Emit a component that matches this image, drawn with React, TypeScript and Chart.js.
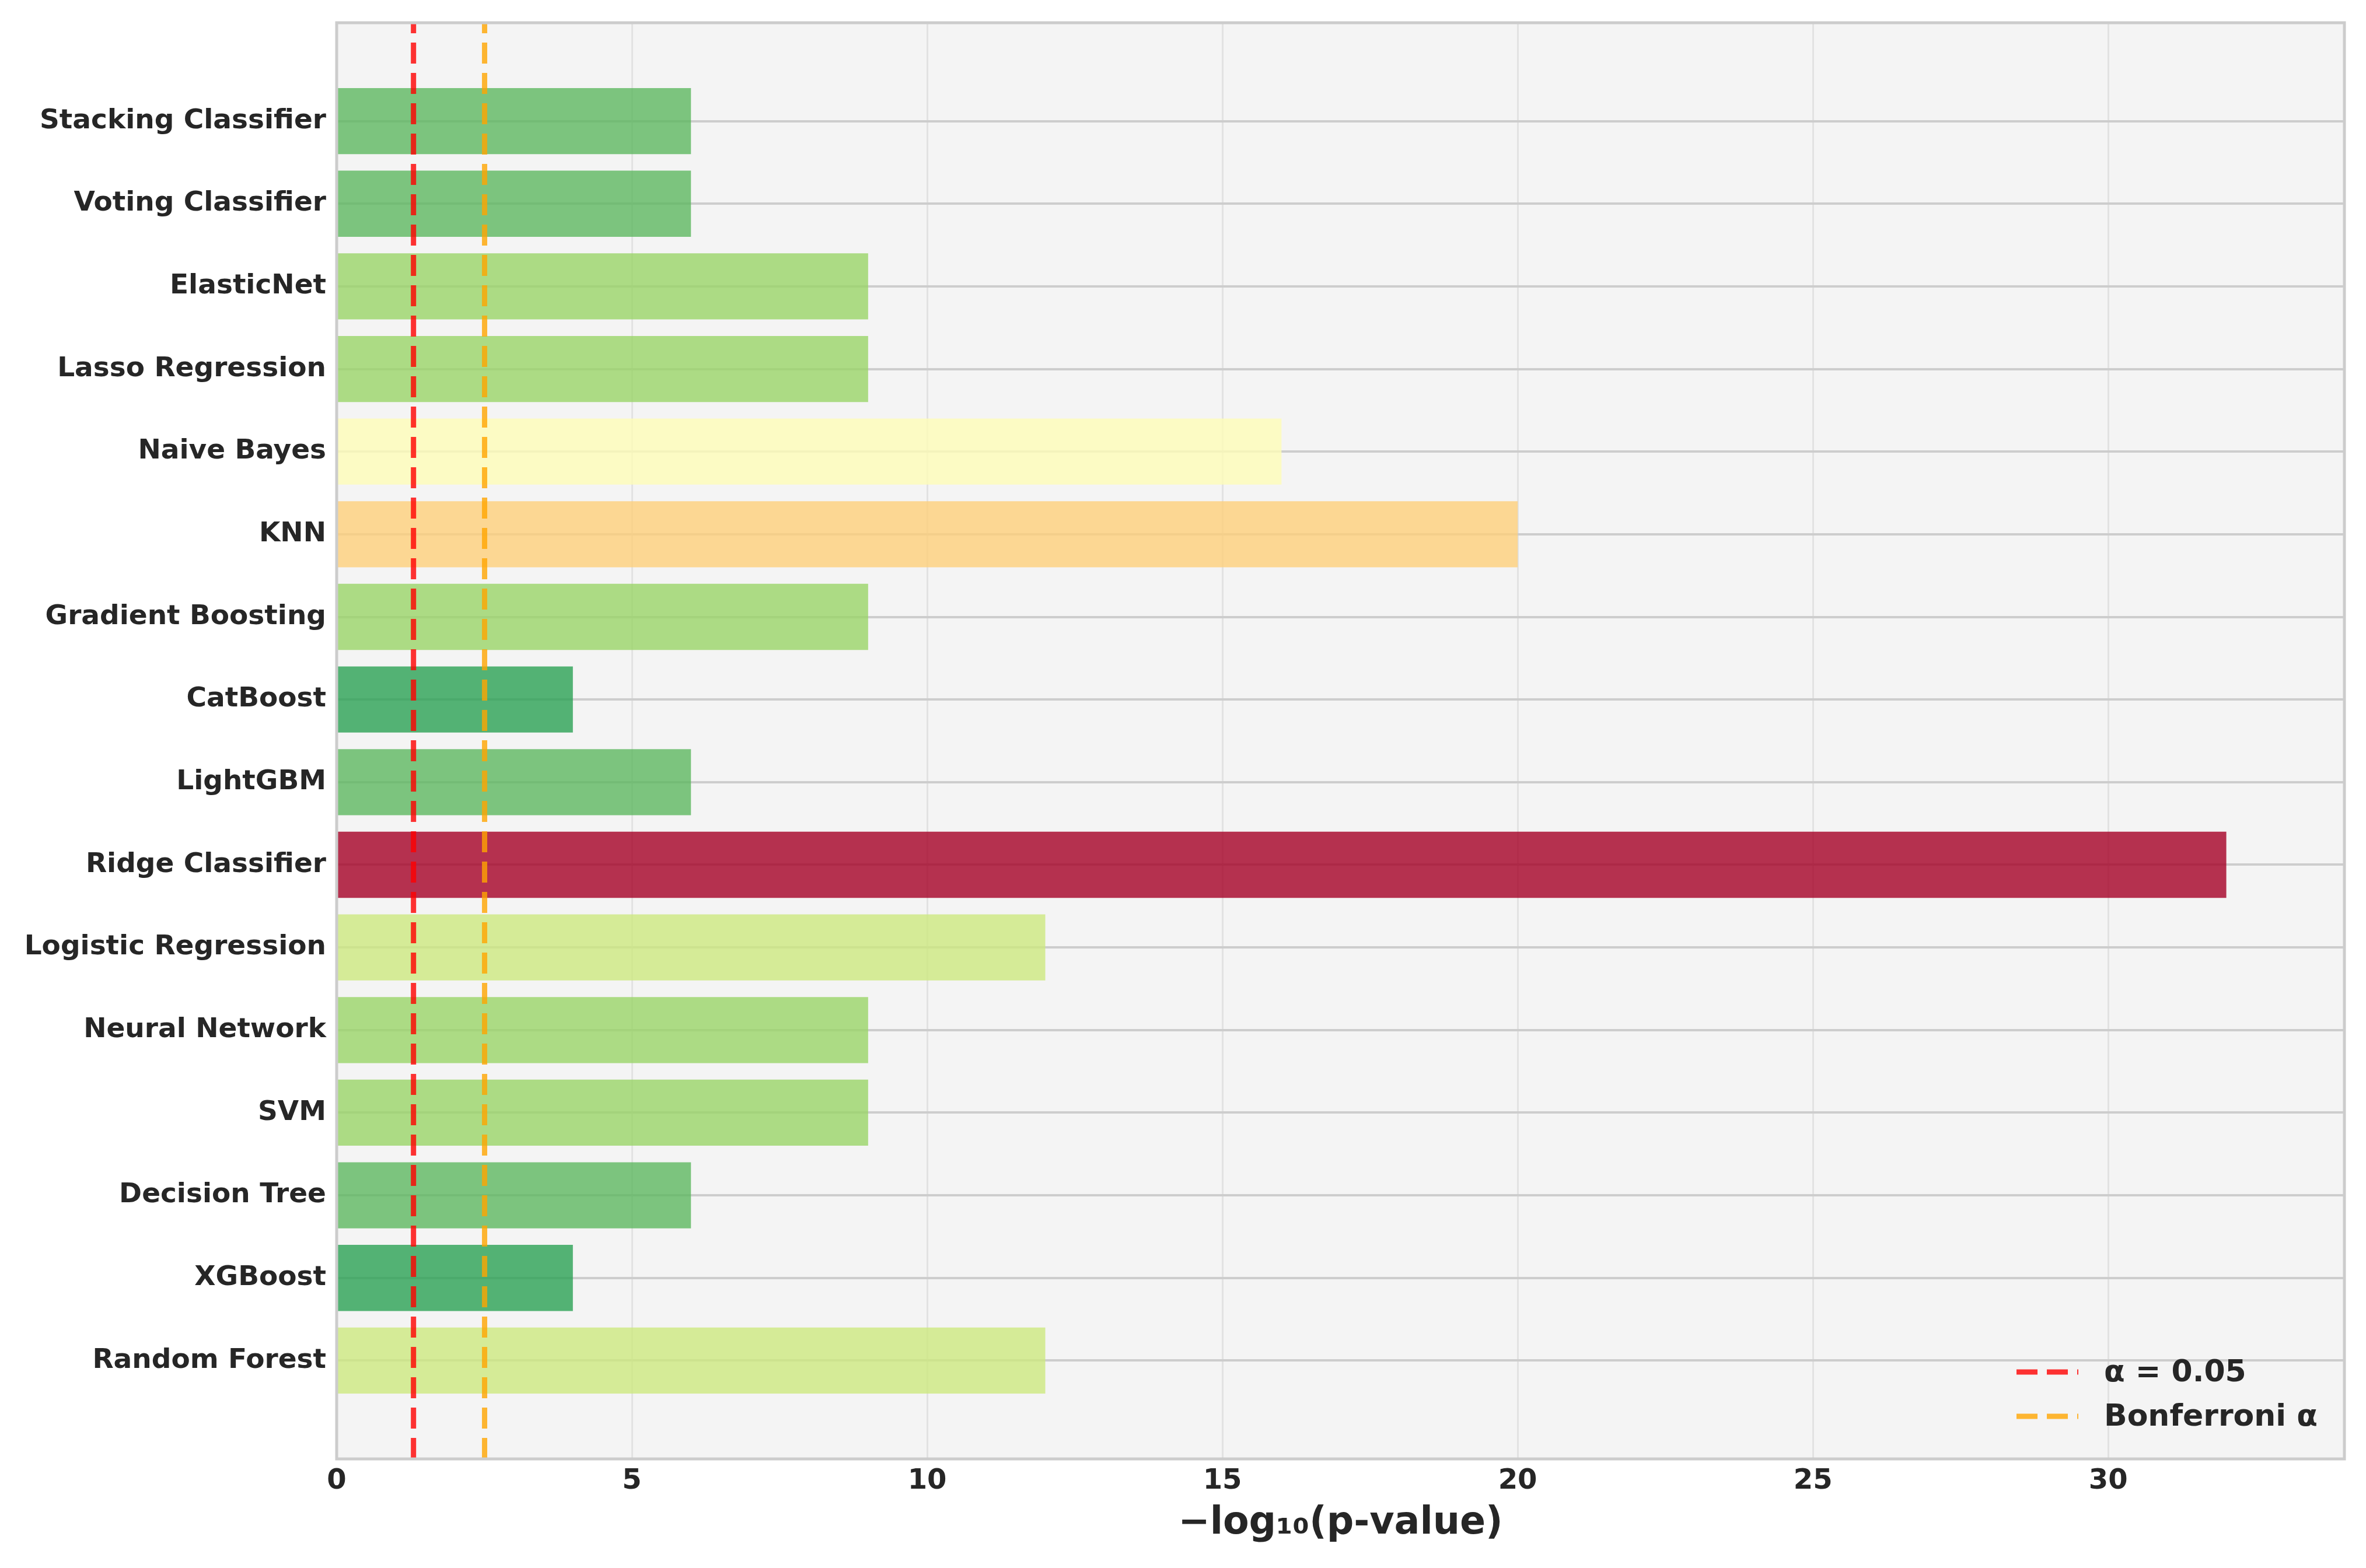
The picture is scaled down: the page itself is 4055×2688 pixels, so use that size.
import React, { useEffect, useRef } from "react";
import { Chart, registerables } from "chart.js";

Chart.register(...registerables);

// Models, listed bottom to top as drawn
const models = [
  "Random Forest",
  "XGBoost",
  "Decision Tree",
  "SVM",
  "Neural Network",
  "Logistic Regression",
  "Ridge Classifier",
  "LightGBM",
  "CatBoost",
  "Gradient Boosting",
  "KNN",
  "Naive Bayes",
  "Lasso Regression",
  "ElasticNet",
  "Voting Classifier",
  "Stacking Classifier",
];

// -log10(p-value) per model
const negLogP = [12, 4, 6, 9, 9, 12, 32, 6, 4, 9, 20, 16, 9, 9, 6, 6];

// bar colours (RdYlGn_r-like, alpha 0.8)
const barColors = [
  "rgba(205,233,128,0.8)",
  "rgba(43,161,84,0.8)",
  "rgba(94,184,96,0.8)",
  "rgba(154,212,104,0.8)",
  "rgba(154,212,104,0.8)",
  "rgba(205,233,128,0.8)",
  "rgba(165,0,38,0.8)",
  "rgba(94,184,96,0.8)",
  "rgba(43,161,84,0.8)",
  "rgba(154,212,104,0.8)",
  "rgba(254,207,122,0.8)",
  "rgba(254,252,184,0.8)",
  "rgba(154,212,104,0.8)",
  "rgba(154,212,104,0.8)",
  "rgba(94,184,96,0.8)",
  "rgba(94,184,96,0.8)",
];

const ALPHA = 0.05;
const N_TESTS = models.length;
const thresholdLabels = ["α = 0.05", "Bonferroni α"];
const thresholdValues = [-Math.log10(ALPHA), -Math.log10(ALPHA / N_TESTS)];
const thresholdColors = ["rgba(255,0,0,0.8)", "rgba(255,165,0,0.8)"];

const xTicks = [0, 5, 10, 15, 20, 25, 30];
const X_MAX = 34;
const Y_MIN = -1.19;
const Y_MAX = 16.19;

const FONT = "'DejaVu Sans', 'Liberation Sans', sans-serif";
const TEXT_COLOR = "#262626";

const bgPlugin = {
  id: "bgPlugin",
  beforeDraw(chart: any) {
    const { ctx, chartArea } = chart;
    ctx.save();
    ctx.fillStyle = "#ffffff";
    ctx.fillRect(0, 0, chart.width, chart.height);
    ctx.fillStyle = "#f4f4f4";
    ctx.fillRect(chartArea.left, chartArea.top, chartArea.right - chartArea.left, chartArea.bottom - chartArea.top);
    ctx.restore();
  },
  afterDraw(chart: any) {
    const { ctx, chartArea } = chart;
    ctx.save();
    ctx.strokeStyle = "#cccccc";
    ctx.lineWidth = 5;
    ctx.strokeRect(chartArea.left, chartArea.top, chartArea.right - chartArea.left, chartArea.bottom - chartArea.top);

    // legend for line datasets (lower right, inside plot)
    const lineSets = chart.data.datasets.filter((d: any) => d.type === "line");
    ctx.font = `bold 52px ${FONT}`;
    ctx.textBaseline = "middle";
    ctx.textAlign = "left";
    lineSets.forEach((ds: any, i: number) => {
      const y = chartArea.bottom - 149 + i * 76;
      const x0 = chartArea.right - 562;
      const x1 = chartArea.right - 456;
      ctx.strokeStyle = ds.borderColor;
      ctx.lineWidth = ds.borderWidth;
      ctx.setLineDash(ds.borderDash);
      ctx.beginPath();
      ctx.moveTo(x0, y);
      ctx.lineTo(x1, y);
      ctx.stroke();
      ctx.setLineDash([]);
      ctx.fillStyle = TEXT_COLOR;
      ctx.fillText(ds.label, chartArea.right - 412, y + 2);
    });
    ctx.restore();
  },
};

export default function App() {
  const canvasRef = useRef<HTMLCanvasElement | null>(null);

  useEffect(() => {
    if (!canvasRef.current) return;
    const barData = models.map((_, i) => ({ x: negLogP[i], y: i }));
    const lineSets = thresholdValues.map((v, i) => ({
      type: "line" as const,
      label: thresholdLabels[i],
      order: 0,
      data: [
        { x: v, y: Y_MIN },
        { x: v, y: Y_MAX },
      ],
      borderColor: thresholdColors[i],
      borderWidth: 9,
      borderDash: [36, 16],
      pointRadius: 0,
      fill: false,
      tension: 0,
    }));

    const chart = new Chart(canvasRef.current, {
      type: "bar",
      data: {
        datasets: [
          {
            type: "bar" as const,
            label: "-log10(p)",
            order: 5,
            data: barData as any,
            backgroundColor: barColors,
            borderWidth: 0,
            barPercentage: 0.8,
            categoryPercentage: 1.0,
          },
          ...(lineSets as any),
        ],
      },
      options: {
        indexAxis: "y",
        animation: false,
        responsive: false,
        devicePixelRatio: 1,
        layout: { padding: { left: 0, top: 39, right: 37, bottom: 0 } },
        plugins: {
          legend: { display: false },
          tooltip: { enabled: false },
        },
        scales: {
          x: {
            type: "linear",
            position: "bottom",
            min: 0,
            max: X_MAX,
            offset: false,
            afterBuildTicks: (scale: any) => {
              scale.ticks = xTicks.map((v) => ({ value: v }));
            },
            afterFit: (scale: any) => {
              scale.height = 187;
              scale.paddingLeft = 0;
              scale.paddingRight = 0;
            },
            grid: { color: "#e2e2e2", lineWidth: 3, drawTicks: false, offset: false },
            border: { display: false },
            ticks: {
              padding: 10,
              color: TEXT_COLOR,
              font: { family: FONT, weight: "bold", size: 48 },
            },
            title: {
              display: true,
              text: "−log₁₀(p-value)",
              color: TEXT_COLOR,
              font: { family: FONT, weight: "bold", size: 65 },
              padding: { top: 0, bottom: 37 },
            },
          },
          y: {
            type: "linear",
            position: "left",
            min: Y_MIN,
            max: Y_MAX,
            offset: false,
            afterBuildTicks: (scale: any) => {
              scale.ticks = models.map((_, i) => ({ value: i }));
            },
            afterFit: (scale: any) => {
              scale.width = 577;
              scale.paddingTop = 0;
              scale.paddingBottom = 0;
            },
            grid: { color: "#cdcdcd", lineWidth: 4, drawTicks: false, offset: false },
            border: { display: false },
            ticks: {
              padding: 18,
              color: TEXT_COLOR,
              autoSkip: false,
              font: { family: FONT, weight: "bold", size: 47 },
              callback: (v: any) => models[Math.round(Number(v))] ?? "",
            },
          },
        },
      } as any,
      plugins: [bgPlugin],
    });
    return () => chart.destroy();
  }, []);

  return (
    <div style={{ position: "absolute", left: 0, top: 0, width: 4055, height: 2688, background: "#fff" }}>
      <canvas ref={canvasRef} width={4055} height={2688} style={{ display: "block", width: 4055, height: 2688 }} />
    </div>
  );
}
